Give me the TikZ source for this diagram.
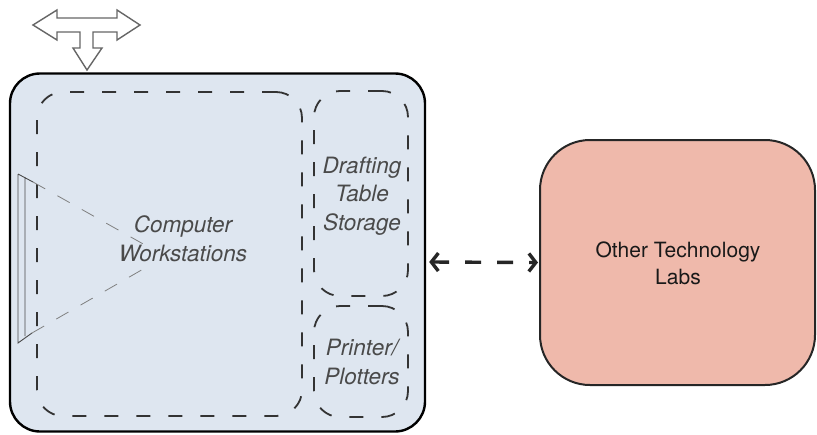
\documentclass[tikz,border=0pt]{standalone}
\usepackage{fontspec}
\setmainfont{TeX Gyre Heros}
\usetikzlibrary{arrows.meta}
\definecolor{roomblue}{HTML}{DEE6F0}
\definecolor{labsalmon}{HTML}{EFB9AB}
\definecolor{zonegray}{HTML}{333333}
\definecolor{labelgray}{HTML}{4A4A4A}
\tikzset{
  room/.style={draw=black, line width=2.4pt, fill=roomblue, rounded corners=30pt},
  otherlab/.style={draw=black!85, line width=2pt, fill=labsalmon, rounded corners=50pt},
  zone/.style={draw=zonegray, line width=1.8pt, rounded corners=26pt,
    dash pattern=on 14pt off 18pt},
  zonelabel/.style={text=labelgray, align=center,
    font=\fontsize{22.5}{28.5}\selectfont\itshape},
  lablabel/.style={text=black!90, align=center,
    font=\fontsize{21}{27}\selectfont},
  sightline/.style={draw=gray, line width=0.8pt, dash pattern=on 14pt off 14pt},
  screenline/.style={draw=labelgray, line width=0.9pt},
  linkarrow/.style={line width=3.4pt, draw=black!85, dash pattern=on 16pt off 16pt,
    {Straight Barb[length=7pt,width=18pt]}-{Straight Barb[length=7pt,width=18pt]}},
  doorarrow/.style={draw=black!60, line width=1.4pt, fill=white, line join=miter}
}
\begin{document}
\begin{tikzpicture}[x=1pt,y=-1pt]
\useasboundingbox (0,0) rectangle (817,434);

% rooms
\node[room, minimum width=415pt, minimum height=358pt] (main) at (217.5,252.5) {};
\node[otherlab, minimum width=275pt, minimum height=245pt] (labs) at (677.5,262.5) {};

% zones inside the lab
\node[zone, minimum width=265pt, minimum height=324pt] (ws) at (169.5,254) {};
\node[zone, minimum width=94pt, minimum height=205pt] (draft) at (361,193.5) {};
\node[zone, minimum width=94pt, minimum height=111pt] (print) at (361,361.5) {};

% projection screen and sight lines
\draw[screenline] (18,174) -- (18,343) -- (32,333) (25,177) -- (25,336) (18,174) -- (33,182);
\draw[sightline] (33,182) -- (145,245);
\draw[sightline] (32,333) -- (145,268);

% labels
\node[zonelabel] (wslabel) at (183,239) {Computer\\Workstations};
\node[zonelabel] (draftlabel) at (362,196) {Drafting\\Table\\Storage};
\node[zonelabel] (printlabel) at (362,362) {Printer/\\Plotters};
\node[lablabel] (labslabel) at (678,263) {Other Technology\\Labs};

% link between the rooms
\draw[linkarrow] ([yshift=-9.5pt,xshift=3pt]main.east) -- ([xshift=-1pt]labs.west);

% entrance / circulation arrow
\draw[doorarrow] (33,25) -- (57,10) -- (57,18) -- (117,18) -- (117,10) -- (140,25)
  -- (117,40) -- (117,32) -- (93,32) -- (93,48) -- (102,48) -- (87,70) -- (73,48)
  -- (80,48) -- (80,32) -- (57,32) -- (57,40) -- cycle;
\end{tikzpicture}
\end{document}
